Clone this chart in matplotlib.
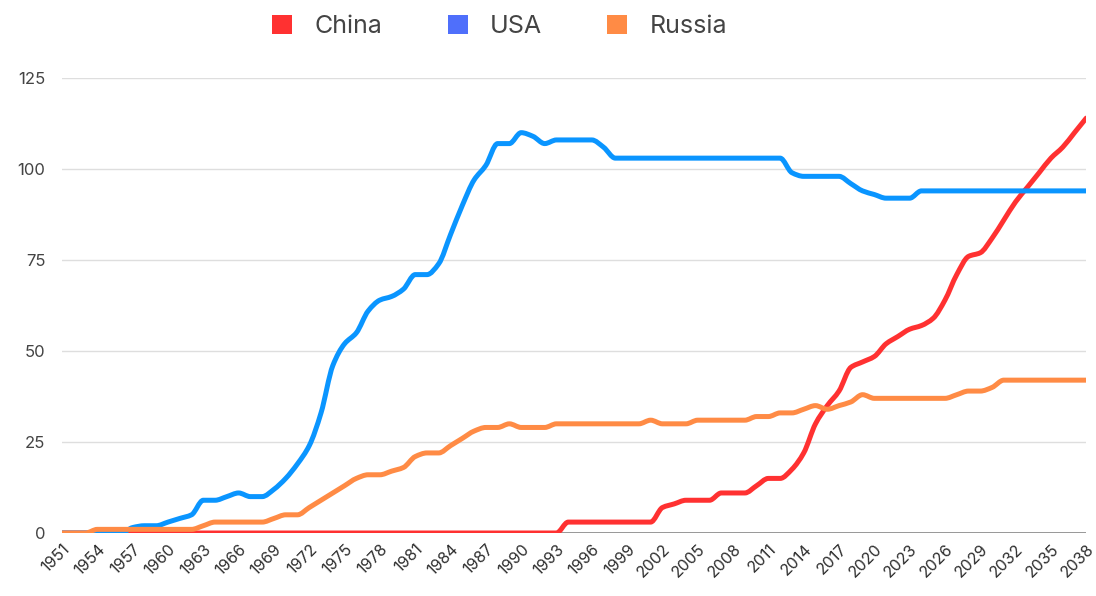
import matplotlib
matplotlib.use('Agg')
import matplotlib.pyplot as plt
from matplotlib.patches import Patch, PathPatch
from matplotlib.path import Path
import numpy as np

plt.rcParams['font.family'] = ['Inter', 'DejaVu Sans']

years = np.arange(1951, 2039)

china = [0, 0, 0, 0, 0, 0, 0, 0, 0, 0,          # 1951-1960
         0, 0, 0, 0, 0, 0, 0, 0, 0, 0,          # 1961-1970
         0, 0, 0, 0, 0, 0, 0, 0, 0, 0,          # 1971-1980
         0, 0, 0, 0, 0, 0, 0, 0, 0, 0,          # 1981-1990
         0, 0, 0, 3, 3, 3, 3, 3, 3, 3,          # 1991-2000
         3, 7, 8, 9, 9, 9, 11, 11, 11, 13,      # 2001-2010
         15, 15, 17.5, 22, 30, 35, 39, 45.5, 47, 48.5,   # 2011-2020
         52, 54, 56, 57, 59, 64, 71, 76, 77, 81,         # 2021-2030
         86, 91, 95, 99, 103, 106, 110, 114]             # 2031-2038

usa = [0, 0, 0, 0, 0, 0, 1.5, 2, 2, 3,          # 1951-1960
       4, 5, 9, 9, 10, 11, 10, 10, 12, 15,      # 1961-1970
       19, 24, 33, 46, 52, 55, 61, 64, 65, 67,  # 1971-1980
       71, 71, 74, 82, 90, 97, 101, 107, 107, 110,     # 1981-1990
       109, 107, 108, 108, 108, 108, 106, 103, 103, 103,  # 1991-2000
       103, 103, 103, 103, 103, 103, 103, 103, 103, 103,  # 2001-2010
       103, 103, 99, 98, 98, 98, 98, 96, 94, 93,          # 2011-2020
       92, 92, 92, 94, 94, 94, 94, 94, 94, 94,            # 2021-2030
       94, 94, 94, 94, 94, 94, 94, 94]                    # 2031-2038

russia = [0, 0, 0, 1, 1, 1, 1, 1, 1, 1,        # 1951-1960
          1, 1, 2, 3, 3, 3, 3, 3, 4, 5,        # 1961-1970
          5, 7, 9, 11, 13, 15, 16, 16, 17, 18,  # 1971-1980
          21, 22, 22, 24, 26, 28, 29, 29, 30, 29,  # 1981-1990
          29, 29, 30, 30, 30, 30, 30, 30, 30, 30,  # 1991-2000
          31, 30, 30, 30, 31, 31, 31, 31, 31, 32,  # 2001-2010
          32, 33, 33, 34, 35, 34, 35, 36, 38, 37,  # 2011-2020
          37, 37, 37, 37, 37, 37, 38, 39, 39, 40,  # 2021-2030
          42, 42, 42, 42, 42, 42, 42, 42]          # 2031-2038

series_names = ['China', 'USA', 'Russia']
line_colors = ['#ff3131', '#0a95ff', '#ff8b45']
legend_colors = ['#ff3131', '#4f6ffb', '#ff8b45']


def smooth_path(x, y):
    # cubic bezier through every data point, tangent set to zero at
    # local extrema / plateaus so flat runs stay flat (like curveType 'function')
    x = np.asarray(x, float)
    y = np.asarray(y, float)
    n = len(x)
    d = np.diff(y) / np.diff(x)
    m = np.zeros(n)
    for i in range(1, n - 1):
        if d[i - 1] * d[i] > 0:
            m[i] = 2.0 / (1.0 / d[i - 1] + 1.0 / d[i])
    m[0] = d[0]
    m[-1] = d[-1]
    verts = [(x[0], y[0])]
    codes = [Path.MOVETO]
    for i in range(n - 1):
        h = x[i + 1] - x[i]
        verts += [(x[i] + h / 3, y[i] + m[i] * h / 3),
                  (x[i + 1] - h / 3, y[i + 1] - m[i + 1] * h / 3),
                  (x[i + 1], y[i + 1])]
        codes += [Path.CURVE4] * 3
    return Path(verts, codes)


fig = plt.figure(figsize=(10.96, 5.96), dpi=100)
ax = fig.add_axes([0.0566, 0.1057, 0.9345, 0.7633])

for vals, col in zip([china, usa, russia], line_colors):
    patch = PathPatch(smooth_path(years, vals), facecolor='none', edgecolor=col,
                      lw=3.6, joinstyle='round', capstyle='round', zorder=3)
    ax.add_patch(patch)

ax.set_xlim(1951, 2038)
ax.set_ylim(0, 125)
ax.set_yticks([0, 25, 50, 75, 100, 125])
ax.set_xticks(years[::3])
ax.set_xticklabels([str(y) for y in years[::3]], rotation=45, ha='right',
                   rotation_mode='anchor', fontsize=11.5, color='#2e2e2e')
ax.tick_params(axis='y', labelsize=12, labelcolor='#444444', length=0, pad=12)
ax.tick_params(axis='x', length=0, pad=6)

ax.grid(axis='y', color='#dedede', lw=1)
ax.set_axisbelow(True)
for s in ax.spines.values():
    s.set_visible(False)
ax.axhline(0, color='#888888', lw=1.2, zorder=2)

handles = [Patch(facecolor=c, edgecolor='none') for c in legend_colors]
fig.legend(handles, series_names, loc='center', bbox_to_anchor=(0.456, 0.955),
           ncol=3, frameon=False, fontsize=18, handlelength=0.8, handleheight=0.8,
           handletextpad=0.9, columnspacing=2.6, labelcolor='#444444')

fig.savefig('out.png', dpi=100, facecolor='white')
